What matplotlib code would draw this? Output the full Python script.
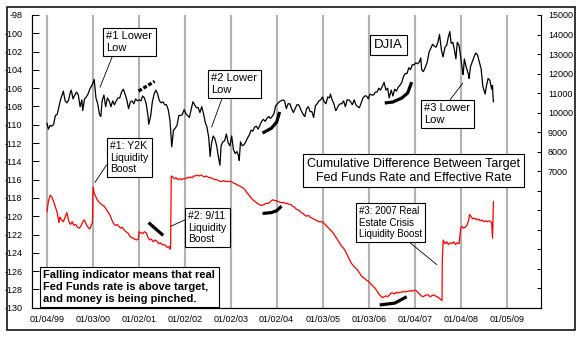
import matplotlib
matplotlib.use("Agg")
import matplotlib.pyplot as plt
import matplotlib.dates as mdates
from matplotlib.patches import Rectangle
import pandas as pd

plt.rcParams["font.family"] = ["Liberation Sans", "DejaVu Sans"]
plt.rcParams["axes.unicode_minus"] = False

W, H = 585, 338

# Dow Jones Industrial Average (right axis)
djia = [
    ("1999-01-04", 9450), ("1999-01-15", 9150), ("1999-01-29", 9350), ("1999-02-12", 9300),
    ("1999-02-26", 9400), ("1999-03-12", 9850), ("1999-03-26", 9900), ("1999-04-09", 10300),
    ("1999-04-23", 10700), ("1999-05-07", 10950), ("1999-05-14", 11100), ("1999-05-28", 10600),
    ("1999-06-11", 10500), ("1999-06-25", 10650), ("1999-07-09", 11050), ("1999-07-16", 11150),
    ("1999-07-30", 10700), ("1999-08-13", 10900), ("1999-08-27", 11050), ("1999-09-10", 10900),
    ("1999-09-24", 10300), ("1999-10-08", 10650), ("1999-10-15", 10100), ("1999-10-29", 10700),
    ("1999-11-12", 10800), ("1999-11-26", 10950), ("1999-12-10", 11200), ("1999-12-31", 11450),
    ("2000-01-14", 11700), ("2000-01-28", 10750), ("2000-02-11", 10450), ("2000-02-25", 9900),
    ("2000-03-07", 9800), ("2000-03-17", 10600), ("2000-03-31", 10900), ("2000-04-14", 10300),
    ("2000-04-28", 10750), ("2000-05-12", 10600), ("2000-05-26", 10300), ("2000-06-09", 10600),
    ("2000-06-23", 10400), ("2000-07-07", 10600), ("2000-07-21", 10750), ("2000-08-04", 10750),
    ("2000-08-18", 11050), ("2000-09-01", 11200), ("2000-09-15", 10950), ("2000-09-29", 10650),
    ("2000-10-13", 10200), ("2000-10-27", 10550), ("2000-11-10", 10600), ("2000-11-24", 10450),
    ("2000-12-08", 10700), ("2000-12-22", 10600), ("2001-01-05", 10650), ("2001-01-19", 10600),
    ("2001-02-02", 10850), ("2001-02-16", 10750), ("2001-03-02", 10450), ("2001-03-16", 9850),
    ("2001-03-22", 9400), ("2001-04-06", 9800), ("2001-04-20", 10550), ("2001-05-04", 10950),
    ("2001-05-18", 11150), ("2001-06-01", 10950), ("2001-06-15", 10600), ("2001-06-29", 10500),
    ("2001-07-13", 10550), ("2001-07-27", 10400), ("2001-08-10", 10400), ("2001-08-24", 10150),
    ("2001-09-07", 9600), ("2001-09-21", 8250), ("2001-10-05", 9100), ("2001-10-19", 9200),
    ("2001-11-02", 9350), ("2001-11-16", 9850), ("2001-11-30", 9850), ("2001-12-14", 9900),
    ("2001-12-28", 10150), ("2002-01-11", 9950), ("2002-01-25", 9850), ("2002-02-08", 9750),
    ("2002-02-22", 10150), ("2002-03-08", 10550), ("2002-03-22", 10400), ("2002-04-05", 10250),
    ("2002-04-19", 10250), ("2002-05-03", 10000), ("2002-05-17", 10300), ("2002-05-31", 9950),
    ("2002-06-14", 9500), ("2002-06-28", 9250), ("2002-07-12", 8700), ("2002-07-23", 7750),
    ("2002-08-02", 8400), ("2002-08-16", 8800), ("2002-08-30", 8650), ("2002-09-13", 8300),
    ("2002-09-27", 7700), ("2002-10-09", 7300), ("2002-10-18", 8300), ("2002-11-01", 8500),
    ("2002-11-15", 8550), ("2002-11-29", 8900), ("2002-12-13", 8450), ("2002-12-27", 8300),
    ("2003-01-10", 8800), ("2003-01-24", 8100), ("2003-02-07", 7900), ("2003-02-21", 8000),
    ("2003-03-07", 7750), ("2003-03-11", 7550), ("2003-03-21", 8500), ("2003-04-04", 8300),
    ("2003-04-18", 8350), ("2003-05-02", 8500), ("2003-05-16", 8700), ("2003-05-30", 8850),
    ("2003-06-13", 9100), ("2003-06-27", 9050), ("2003-07-11", 9250), ("2003-07-25", 9300),
    ("2003-08-08", 9150), ("2003-08-22", 9350), ("2003-09-05", 9550), ("2003-09-19", 9650),
    ("2003-10-03", 9550), ("2003-10-17", 9700), ("2003-10-31", 9800), ("2003-11-14", 9700),
    ("2003-11-28", 9800), ("2003-12-12", 9950), ("2003-12-26", 10350), ("2004-01-09", 10450),
    ("2004-01-23", 10550), ("2004-02-06", 10600), ("2004-02-20", 10650), ("2004-03-05", 10600),
    ("2004-03-19", 10200), ("2004-04-02", 10450), ("2004-04-16", 10450), ("2004-04-30", 10200),
    ("2004-05-14", 10000), ("2004-05-28", 10200), ("2004-06-11", 10400), ("2004-06-25", 10400),
    ("2004-07-09", 10200), ("2004-07-23", 10000), ("2004-08-06", 9850), ("2004-08-13", 9800),
    ("2004-08-27", 10200), ("2004-09-10", 10300), ("2004-09-24", 10050), ("2004-10-08", 10050),
    ("2004-10-22", 9750), ("2004-11-05", 10350), ("2004-11-19", 10450), ("2004-12-03", 10600),
    ("2004-12-17", 10650), ("2004-12-31", 10800), ("2005-01-14", 10550), ("2005-01-28", 10450),
    ("2005-02-11", 10800), ("2005-02-25", 10750), ("2005-03-04", 10950), ("2005-03-18", 10650),
    ("2005-04-01", 10450), ("2005-04-15", 10100), ("2005-04-22", 10150), ("2005-05-06", 10350),
    ("2005-05-20", 10450), ("2005-06-03", 10450), ("2005-06-17", 10600), ("2005-07-01", 10300),
    ("2005-07-15", 10650), ("2005-07-29", 10650), ("2005-08-12", 10550), ("2005-08-26", 10400),
    ("2005-09-09", 10650), ("2005-09-23", 10400), ("2005-10-07", 10300), ("2005-10-21", 10250),
    ("2005-11-04", 10500), ("2005-11-18", 10750), ("2005-12-02", 10850), ("2005-12-16", 10850),
    ("2005-12-30", 10700), ("2006-01-13", 10950), ("2006-01-27", 10900), ("2006-02-10", 10900),
    ("2006-02-24", 11050), ("2006-03-10", 11050), ("2006-03-24", 11250), ("2006-04-07", 11150),
    ("2006-04-21", 11350), ("2006-05-05", 11550), ("2006-05-19", 11150), ("2006-06-02", 11250),
    ("2006-06-14", 10750), ("2006-06-30", 11150), ("2006-07-14", 10850), ("2006-07-28", 11200),
    ("2006-08-11", 11100), ("2006-08-25", 11300), ("2006-09-08", 11400), ("2006-09-22", 11550),
    ("2006-10-06", 11850), ("2006-10-20", 12000), ("2006-11-03", 12000), ("2006-11-17", 12300),
    ("2006-12-01", 12200), ("2006-12-15", 12450), ("2006-12-29", 12450), ("2007-01-12", 12550),
    ("2007-01-26", 12500), ("2007-02-09", 12600), ("2007-02-20", 12800), ("2007-02-27", 12200),
    ("2007-03-13", 12100), ("2007-03-30", 12350), ("2007-04-13", 12600), ("2007-04-27", 13100),
    ("2007-05-11", 13300), ("2007-05-25", 13500), ("2007-06-08", 13400), ("2007-06-22", 13350),
    ("2007-07-06", 13600), ("2007-07-19", 14000), ("2007-08-03", 13200), ("2007-08-16", 12850),
    ("2007-08-31", 13350), ("2007-09-14", 13450), ("2007-09-28", 13900), ("2007-10-09", 14150),
    ("2007-10-19", 13550), ("2007-11-02", 13600), ("2007-11-16", 13150), ("2007-11-26", 12750),
    ("2007-12-07", 13600), ("2007-12-21", 13450), ("2008-01-04", 12800), ("2008-01-18", 12100),
    ("2008-01-23", 11950), ("2008-02-01", 12750), ("2008-02-15", 12350), ("2008-03-07", 11900),
    ("2008-03-10", 11750), ("2008-03-21", 12350), ("2008-04-04", 12600), ("2008-04-18", 12850),
    ("2008-05-02", 13050), ("2008-05-16", 12950), ("2008-05-30", 12600), ("2008-06-13", 12250),
    ("2008-06-27", 11350), ("2008-07-15", 10950), ("2008-07-25", 11350), ("2008-08-08", 11750),
    ("2008-08-22", 11650), ("2008-09-05", 11200), ("2008-09-12", 11400), ("2008-09-15", 10900),
    ("2008-09-19", 10550),
]

# cumulative target minus effective fed funds rate (left axis)
cum_diff = [
    ("1999-01-04", -119.5), ("1999-01-15", -118.4), ("1999-01-29", -117.7), ("1999-02-12", -117.9),
    ("1999-02-26", -118.4), ("1999-03-12", -119.0), ("1999-03-26", -119.6), ("1999-04-09", -120.7),
    ("1999-04-16", -120.1), ("1999-04-30", -120.4), ("1999-05-14", -120.6), ("1999-05-28", -120.1),
    ("1999-06-11", -119.6), ("1999-06-25", -120.5), ("1999-07-09", -120.9), ("1999-07-23", -120.6),
    ("1999-08-06", -121.0), ("1999-08-20", -120.9), ("1999-09-03", -121.2), ("1999-09-17", -121.3),
    ("1999-10-01", -121.1), ("1999-10-15", -120.6), ("1999-10-29", -120.4), ("1999-11-12", -120.9),
    ("1999-11-26", -121.2), ("1999-12-10", -121.4), ("1999-12-24", -120.9), ("1999-12-31", -120.7),
    ("2000-01-05", -116.8), ("2000-01-14", -117.5), ("2000-01-28", -117.9), ("2000-02-11", -118.3),
    ("2000-02-25", -118.5), ("2000-03-10", -118.7), ("2000-03-24", -118.8), ("2000-04-07", -119.0),
    ("2000-04-21", -119.3), ("2000-05-05", -119.6), ("2000-05-19", -119.9), ("2000-06-02", -120.4),
    ("2000-06-16", -120.8), ("2000-06-30", -121.0), ("2000-07-14", -120.9), ("2000-07-28", -121.1),
    ("2000-08-11", -121.3), ("2000-08-25", -121.2), ("2000-09-08", -121.5), ("2000-09-22", -121.7),
    ("2000-10-06", -121.8), ("2000-10-20", -122.1), ("2000-11-03", -122.3), ("2000-11-17", -122.4),
    ("2000-12-01", -122.5), ("2000-12-15", -122.6), ("2000-12-29", -122.5), ("2001-01-05", -121.7),
    ("2001-01-19", -121.8), ("2001-02-02", -121.9), ("2001-02-16", -121.7), ("2001-03-02", -121.8),
    ("2001-03-16", -122.3), ("2001-03-30", -122.6), ("2001-04-13", -122.5), ("2001-04-27", -122.8),
    ("2001-05-11", -122.6), ("2001-05-25", -122.7), ("2001-06-08", -123.0), ("2001-06-22", -122.9),
    ("2001-07-06", -123.1), ("2001-07-20", -123.1), ("2001-08-03", -123.2), ("2001-08-17", -123.4),
    ("2001-08-31", -123.3), ("2001-09-07", -123.6), ("2001-09-12", -123.4), ("2001-09-17", -115.6),
    ("2001-09-28", -115.7), ("2001-10-12", -115.9), ("2001-10-26", -115.8), ("2001-11-09", -116.0),
    ("2001-11-23", -115.9), ("2001-12-07", -116.0), ("2001-12-21", -115.9), ("2002-01-04", -115.9),
    ("2002-01-18", -115.8), ("2002-02-01", -115.8), ("2002-02-15", -115.7), ("2002-03-01", -115.8),
    ("2002-03-15", -115.6), ("2002-03-29", -115.6), ("2002-04-12", -115.5), ("2002-04-26", -115.6),
    ("2002-05-10", -115.5), ("2002-05-24", -115.6), ("2002-06-07", -115.7), ("2002-06-21", -115.6),
    ("2002-07-05", -115.7), ("2002-07-19", -115.8), ("2002-08-02", -115.8), ("2002-08-16", -115.9),
    ("2002-08-30", -116.0), ("2002-09-13", -116.0), ("2002-09-27", -116.1), ("2002-10-11", -116.2),
    ("2002-10-25", -116.2), ("2002-11-08", -116.1), ("2002-11-22", -116.2), ("2002-12-06", -116.2),
    ("2002-12-20", -116.2), ("2003-01-03", -116.2), ("2003-01-17", -116.3), ("2003-01-31", -116.4),
    ("2003-02-14", -116.5), ("2003-02-28", -116.6), ("2003-03-14", -116.7), ("2003-03-28", -116.8),
    ("2003-04-11", -116.9), ("2003-04-25", -117.1), ("2003-05-09", -117.4), ("2003-05-23", -117.6),
    ("2003-06-06", -117.9), ("2003-06-20", -118.1), ("2003-07-04", -118.3), ("2003-07-18", -118.4),
    ("2003-08-01", -118.6), ("2003-08-15", -118.7), ("2003-08-29", -118.8), ("2003-09-12", -118.8),
    ("2003-09-26", -118.7), ("2003-10-10", -118.6), ("2003-10-24", -118.6), ("2003-11-07", -118.5),
    ("2003-11-21", -118.3), ("2003-12-05", -118.2), ("2003-12-19", -118.3), ("2004-01-02", -118.3),
    ("2004-01-16", -118.4), ("2004-01-30", -118.5), ("2004-02-13", -118.5), ("2004-02-27", -118.5),
    ("2004-03-12", -118.6), ("2004-03-26", -118.6), ("2004-04-09", -118.7), ("2004-04-23", -118.7),
    ("2004-05-07", -118.9), ("2004-05-21", -119.0), ("2004-06-04", -119.2), ("2004-06-18", -119.3),
    ("2004-07-02", -119.4), ("2004-07-16", -119.6), ("2004-07-30", -119.7), ("2004-08-13", -119.9),
    ("2004-08-27", -120.0), ("2004-09-10", -119.9), ("2004-09-24", -120.1), ("2004-10-08", -120.2),
    ("2004-10-22", -120.3), ("2004-11-05", -120.4), ("2004-11-19", -120.5), ("2004-12-03", -120.6),
    ("2004-12-17", -120.6), ("2004-12-31", -120.6), ("2005-01-14", -120.8), ("2005-01-28", -121.0),
    ("2005-02-11", -121.2), ("2005-02-25", -121.4), ("2005-03-11", -121.6), ("2005-03-25", -121.8),
    ("2005-04-08", -122.1), ("2005-04-22", -122.4), ("2005-05-06", -122.7), ("2005-05-20", -123.0),
    ("2005-06-03", -123.3), ("2005-06-17", -123.5), ("2005-07-01", -123.8), ("2005-07-15", -124.2),
    ("2005-07-29", -124.6), ("2005-08-12", -125.0), ("2005-08-26", -125.3), ("2005-09-09", -125.5),
    ("2005-09-23", -125.7), ("2005-10-07", -125.9), ("2005-10-21", -126.2), ("2005-11-04", -126.5),
    ("2005-11-18", -126.7), ("2005-12-02", -126.8), ("2005-12-16", -127.0), ("2005-12-30", -127.1),
    ("2006-01-13", -127.3), ("2006-01-27", -127.5), ("2006-02-10", -127.7), ("2006-02-24", -127.9),
    ("2006-03-10", -128.2), ("2006-03-24", -128.5), ("2006-04-07", -128.7), ("2006-04-21", -128.9),
    ("2006-05-05", -128.8), ("2006-05-19", -128.7), ("2006-06-02", -128.8), ("2006-06-16", -128.6),
    ("2006-06-30", -128.4), ("2006-07-14", -128.4), ("2006-07-28", -128.5), ("2006-08-11", -128.3),
    ("2006-08-25", -128.4), ("2006-09-08", -128.3), ("2006-09-22", -128.3), ("2006-10-06", -128.2),
    ("2006-10-20", -128.3), ("2006-11-03", -128.2), ("2006-11-17", -128.2), ("2006-12-01", -128.1),
    ("2006-12-15", -128.2), ("2006-12-29", -128.1), ("2007-01-12", -128.1), ("2007-01-26", -128.3),
    ("2007-02-09", -128.5), ("2007-02-23", -128.7), ("2007-03-09", -128.8), ("2007-03-23", -128.7),
    ("2007-04-06", -128.6), ("2007-04-20", -128.6), ("2007-05-04", -128.8), ("2007-05-18", -128.7),
    ("2007-06-01", -128.6), ("2007-06-15", -128.7), ("2007-06-29", -128.8), ("2007-07-13", -128.9),
    ("2007-07-27", -129.1), ("2007-08-08", -129.2), ("2007-08-10", -124.8), ("2007-08-17", -122.6),
    ("2007-08-31", -123.0), ("2007-09-14", -122.8), ("2007-09-28", -123.1), ("2007-10-12", -122.9),
    ("2007-10-26", -123.0), ("2007-11-09", -122.8), ("2007-11-23", -123.1), ("2007-12-07", -122.9),
    ("2007-12-21", -123.0), ("2008-01-04", -121.3), ("2008-01-11", -121.1), ("2008-01-25", -121.3),
    ("2008-02-08", -121.2), ("2008-02-22", -121.0), ("2008-03-07", -120.4), ("2008-03-14", -119.8),
    ("2008-03-28", -120.1), ("2008-04-11", -120.3), ("2008-04-25", -120.2), ("2008-05-09", -120.4),
    ("2008-05-23", -120.3), ("2008-06-06", -120.5), ("2008-06-20", -120.4), ("2008-07-04", -120.6),
    ("2008-07-18", -120.5), ("2008-08-01", -120.6), ("2008-08-15", -120.5), ("2008-08-29", -120.6),
    ("2008-09-05", -120.7), ("2008-09-12", -122.4), ("2008-09-15", -120.8), ("2008-09-19", -118.4),
]

# hand-drawn trend marks: (dates, values)
djia_trends = [
    (["2000-12-31", "2001-05-08"], [11100, 11600]),
    (["2003-09-12", "2003-11-22", "2004-01-02", "2004-01-26"], [8950, 9200, 9510, 10030]),
    (["2006-05-10", "2006-07-12", "2006-09-21", "2006-11-08", "2006-12-10"],
     [10490, 10540, 10740, 11000, 11560]),
]
diff_trends = [
    (["2001-03-21", "2001-07-15"], [-120.7, -122.1]),
    (["2003-09-12", "2003-11-22", "2004-01-02", "2004-02-10"], [-119.7, -119.6, -119.4, -118.9]),
    (["2006-03-31", "2006-07-28", "2006-09-21", "2006-10-31"], [-129.7, -129.5, -129.1, -128.8]),
]

tick_dates = ["1999-01-04", "2000-01-03", "2001-01-02", "2002-01-02", "2003-01-02", "2004-01-02",
              "2005-01-03", "2006-01-03", "2007-01-04", "2008-01-04", "2009-01-05"]
tick_labels = ["01/04/99", "01/03/00", "01/02/01", "01/02/02", "01/02/03", "01/02/04",
               "01/03/05", "01/03/06", "01/04/07", "01/04/08", "01/05/09"]
left_ticks = list(range(-130, -97, 2))
right_ticks = list(range(0, 15001, 1000))


def to_num(d):
    return mdates.date2num(pd.Timestamp(d))


fig = plt.figure(figsize=(W / 100, H / 100), dpi=100)
fig.patch.set_facecolor("white")
fig.add_artist(Rectangle((7 / W, 1 - 330 / H), 568 / W, 323 / H, transform=fig.transFigure,
                         fill=False, ec="black", lw=1.1))

ax = fig.add_axes([32 / W, (H - 307.7) / H, 509 / W, 292.7 / H])
ax2 = ax.twinx()

dd = pd.to_datetime([d for d, _ in cum_diff])
ax.plot(dd, [v for _, v in cum_diff], color="#ff0000", lw=0.9)
for ds, vs in diff_trends:
    ax.plot(pd.to_datetime(ds), vs, color="black", lw=2.3, solid_capstyle="butt")

dj = pd.to_datetime([d for d, _ in djia])
ax2.plot(dj, [v for _, v in djia], color="black", lw=0.9)
for i, (ds, vs) in enumerate(djia_trends):
    ax2.plot(pd.to_datetime(ds), vs, color="black", lw=2.3,
             ls=(0, (1.2, 0.6)) if i == 0 else "-", solid_capstyle="butt")

ax.set_xlim(pd.Timestamp("1998-09-07"), pd.Timestamp("2009-10-02"))
ax.set_ylim(-130, -98)
ax2.set_ylim(0, 15000)

ax.set_xticks(pd.to_datetime(tick_dates))
ax.set_xticklabels(tick_labels)
ax.grid(axis="x", color="#b3b3b3", lw=1.5)
ax.set_yticks(left_ticks)
ax.set_yticklabels([str(t) for t in left_ticks])
ax2.set_yticks(right_ticks)
ax2.set_yticklabels([str(t) if t >= 7000 else "" for t in right_ticks])

ax.tick_params(axis="x", length=0, pad=5.5, labelsize=6.5)
ax.tick_params(axis="y", direction="in", length=5, width=0.7, pad=7, labelsize=6.5)
ax2.tick_params(axis="y", direction="in", length=3, width=0.7, pad=5, labelsize=6.5)

for a in (ax, ax2):
    a.spines["top"].set_visible(False)
    for s in ("left", "right", "bottom"):
        a.spines[s].set_linewidth(0.8)
ax.spines["right"].set_visible(False)

box = dict(boxstyle="square,pad=0.3", fc="white", ec="black", lw=0.8)
line = dict(arrowstyle="-", lw=0.6, color="black", shrinkA=0, shrinkB=0)

# callouts: text, box top-left (px), font size, point (date, value), axis, line start on box
callouts = [
    ("#1 Lower\nLow", (103, 28), 8, ("2000-03-01", 11300), ax2, (0.16, 0)),
    ("#1: Y2K\nLiquidity\nBoost", (107, 138), 7.5, ("2000-01-20", -116.3), ax, (0.02, 0.48)),
    ("#2: 9/11\nLiquidity\nBoost", (185, 208), 7.5, ("2001-09-13", -121.1), ax, (0.02, 0.79)),
    ("#2 Lower\nLow", (208, 70), 8, ("2002-08-04", 9260), ax2, (0.26, 0)),
    ("#3 Lower\nLow", (421, 100), 8, ("2008-01-20", 11510), ax2, (0.5, 1)),
    ("#3: 2007 Real\nEstate Crisis\nLiquidity Boost", (356, 203), 7, ("2007-06-28", -125.3), ax,
     (0.74, 0)),
]
for text, (bx, by), size, (d, v), src, rel in callouts:
    pad = 0.3 * size * 100 / 72
    ax2.annotate(text, xy=(to_num(d), v), xycoords=src.transData,
                 xytext=(bx + pad, H - by - pad), textcoords="figure pixels",
                 ha="left", va="top", fontsize=size, bbox=box,
                 arrowprops=dict(line, relpos=rel), zorder=5)

fig.text((370 + 3.9) / W, 1 - (35 + 3.9) / H, "DJIA", fontsize=9.5, ha="left", va="top",
         bbox=box, zorder=5)
fig.text(413.5 / W, 1 - (154 + 3.8) / H,
         "Cumulative Difference Between Target\nFed Funds Rate and Effective Rate",
         fontsize=9, ha="center", va="top", multialignment="center", bbox=box, zorder=5)
fig.text((40 + 3.3) / W, 1 - (267 + 3.3) / H,
         "Falling indicator means that real\nFed Funds rate is above target,\n"
         "and money is being pinched.",
         fontsize=8, fontweight="bold", ha="left", va="top", bbox=box, zorder=5)

fig.savefig("out.png", dpi=100)
